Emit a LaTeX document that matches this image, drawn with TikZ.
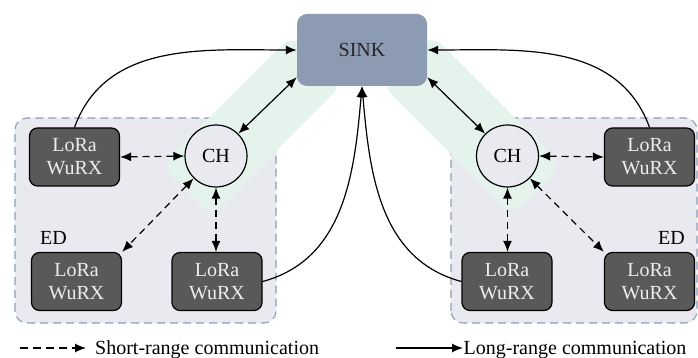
\documentclass[tikz,border=0pt]{standalone}
\usepackage{fontspec}
\setmainfont{Liberation Serif}
\usetikzlibrary{arrows.meta,calc}
\definecolor{grpfill}{RGB}{233,234,239}
\definecolor{grpdraw}{RGB}{140,157,181}
\definecolor{bandcol}{RGB}{229,243,237}
\definecolor{sinkcol}{RGB}{141,155,178}
\definecolor{loracol}{RGB}{89,89,89}
\begin{document}
\begin{tikzpicture}[x=1pt,y=1pt,font=\fontsize{20}{23}\selectfont,
  >={Latex[length=11pt,width=9pt]},
  grp/.style={draw=grpdraw,fill=grpfill,dash pattern=on 8pt off 5pt,line width=1.1pt,rounded corners=12pt},
  band/.style={fill=bandcol,rounded corners=14pt},
  lora/.style={draw=black,fill=loracol,line width=1.2pt,rounded corners=8pt,minimum width=90pt,minimum height=58pt,text=white!93!black,align=center,inner sep=0pt},
  chnode/.style={circle,draw=black,line width=1.2pt,fill=grpfill,minimum size=62pt,inner sep=0pt},
  sinknode/.style={fill=sinkcol,rounded corners=10pt,minimum width=130pt,minimum height=72pt,text=black!85,inner sep=0pt},
  shortarr/.style={<->,line width=1.2pt,dash pattern=on 7pt off 5pt},
  longarr/.style={->,line width=1.2pt},
  bidir/.style={<->,line width=1.2pt}]
\useasboundingbox (0,0) rectangle (698,358);
% group areas
\draw[grp] (15,35) rectangle (276,240);
\draw[grp] (451,35) rectangle (697,240);
% coverage bands
\fill[band] (162,193) -- (212,143) -- (342.5,273.5) -- (292.5,323.5) -- cycle;
\fill[band] (562,193) -- (512,143) -- (381.5,273.5) -- (431.5,323.5) -- cycle;
% nodes
\node[sinknode] (sink) at (362,308) {SINK};
\node[chnode] (chL) at (216,202) {CH};
\node[chnode] (chR) at (507.5,202) {CH};
\node[lora] (tl) at (74.5,201) {LoRa\\WuRX};
\node[lora] (bl) at (76.5,76.5) {LoRa\\WuRX};
\node[lora] (bml) at (217,76.5) {LoRa\\WuRX};
\node[lora] (tr) at (649.5,201) {LoRa\\WuRX};
\node[lora] (bmr) at (507,76.5) {LoRa\\WuRX};
\node[lora] (br) at (649.5,76.5) {LoRa\\WuRX};
\node[anchor=base,inner sep=0pt] (edL) at (53.5,113) {ED};
\node[anchor=base,inner sep=0pt] (edR) at (671.5,113) {ED};
% long-range links
\draw[longarr] (tl.north) to[out=70,in=180] (sink.west);
\draw[longarr] (tr.north) to[out=110,in=0] (sink.east);
\draw[longarr] (bml.east) to[out=15,in=-95] (sink.south);
\draw[longarr] (bmr.west) to[out=165,in=-85] (sink.south);
% CH to sink
\draw[bidir] (chL.45) -- ($(sink.south west)+(0,9)$);
\draw[bidir] (chR.135) -- ($(sink.south east)+(0,9)$);
% short-range links
\draw[shortarr] (tl.east) -- (chL.west);
\draw[shortarr] (chL.225) -- (bl.north east);
\draw[shortarr] (chL.south) -- (chL.south |- bml.north);
\draw[shortarr] (chR.east) -- (tr.west);
\draw[shortarr] (chR.south) -- (chR.south |- bmr.north);
\draw[shortarr] (chR.-45) -- (br.north west);
% legend
\coordinate (ls1) at (20,10);
\coordinate (le1) at (86,10);
\draw[->,line width=1.2pt,dash pattern=on 8pt off 5pt] (ls1) -- (le1);
\node[anchor=base west,inner sep=0pt] (lt1) at (95,3) {Short-range communication};
\coordinate (ls2) at (396,10);
\coordinate (le2) at (463,10);
\draw[->,line width=1.2pt] (ls2) -- (le2);
\node[anchor=base west,inner sep=0pt] (lt2) at (463.5,3) {Long-range communication};
\end{tikzpicture}
\end{document}
